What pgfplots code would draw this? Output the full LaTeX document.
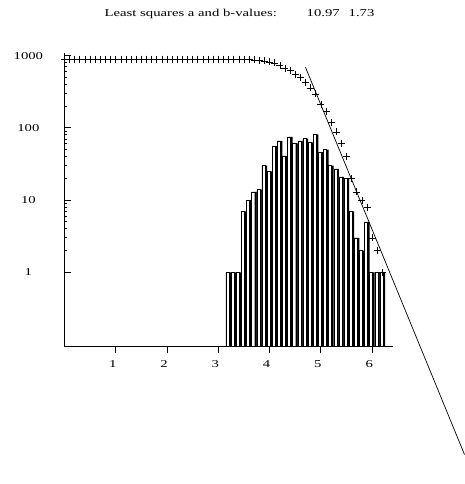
\documentclass[border=0pt]{standalone}
\usepackage{fontspec}
\setmainfont{Liberation Serif}[FakeStretch=1.4]
\usepackage{pgfplots}
\usepackage{pgfplotstable}
\pgfplotsset{compat=1.18}

% magnitude bins (width 0.1) and counts
\pgfplotstableread{
M   n
3.2 1
3.3 1
3.4 1
3.5 7
3.6 10
3.7 13
3.8 14
3.9 30
4.0 25
4.1 56
4.2 66
4.3 41
4.4 75
4.5 61
4.6 66
4.7 71
4.8 63
4.9 81
5.0 46
5.1 50
5.2 30
5.3 27
5.4 21
5.5 20
5.6 7
5.7 3
5.8 2
5.9 5
6.0 1
6.1 1
6.2 1
}\bins

% cumulative number N(>=M)
\pgfplotstableread{
M   N
0.0 896
0.1 896
0.2 896
0.3 896
0.4 896
0.5 896
0.6 896
0.7 896
0.8 896
0.9 896
1.0 896
1.1 896
1.2 896
1.3 896
1.4 896
1.5 896
1.6 896
1.7 896
1.8 896
1.9 896
2.0 896
2.1 896
2.2 896
2.3 896
2.4 896
2.5 896
2.6 896
2.7 896
2.8 896
2.9 896
3.0 896
3.1 896
3.2 896
3.3 895
3.4 894
3.5 893
3.6 886
3.7 876
3.8 863
3.9 849
4.0 819
4.1 794
4.2 738
4.3 672
4.4 631
4.5 556
4.6 495
4.7 429
4.8 358
4.9 295
5.0 214
5.1 168
5.2 118
5.3 88
5.4 61
5.5 40
5.6 20
5.7 13
5.8 10
5.9 8
6.0 3
6.1 2
6.2 1
}\cumul

\begin{document}
\fontsize{10.5}{12}\selectfont
\begin{tikzpicture}
\begin{axis}[
    scale only axis,
    width=328.3pt, height=293.3pt,
    xmin=0, xmax=6.4,
    ymin=0.0953, ymax=1100,
    ymode=log, log origin y=infty,
    axis x line=bottom, axis y line=left,
    axis line style={-, line width=0.8pt},
    xtick={1,2,3,4,5,6}, xticklabels={1,2,3,4,5,6},
    ytick={1,10,100,1000}, yticklabels={1,10,100,1000},
    minor ytick={},
    xtick align=outside, ytick align=inside,
    major tick length=7pt,
    tick style={line width=0.8pt, black},
    yticklabel style={anchor=center, xshift=-36pt},
    xticklabel style={anchor=center, yshift=-11pt, xshift=-3pt},
    font=\fontsize{10.5}{12}\selectfont,
    clip=false,
  ]
  % histogram: dark part of each bin, then open bar
  \addplot[ybar, bar width=0.1, fill=black, draw=none] table[x=M, y=n] {\bins};
  \addplot[ybar, bar width=0.06, bar shift=-0.02, fill=white, draw=black, line width=0.4pt] table[x=M, y=n] {\bins};

  % cumulative counts
  \addplot[only marks, mark=+, mark size=3.5pt, line width=0.6pt] table[x=M, y=N] {\cumul};

  % least squares fit log N = 10.97 - 1.73 M
  \addplot[line width=0.7pt] coordinates {(4.70,690.2) (7.80,0.00299)};

  \coordinate (o) at (rel axis cs:0,0);
\end{axis}
\node[anchor=base west] at ([shift={(36.6pt,329pt)}]o) {Least squares a and b-values:};
\node[anchor=base west] at ([shift={(238.6pt,329pt)}]o) {10.97};
\node[anchor=base west] at ([shift={(280.6pt,329pt)}]o) {1.73};
\pgfresetboundingbox
\path ([shift={(-64.4pt,-138pt)}]o) rectangle ([shift={(400.6pt,346pt)}]o);
\end{tikzpicture}
\end{document}
